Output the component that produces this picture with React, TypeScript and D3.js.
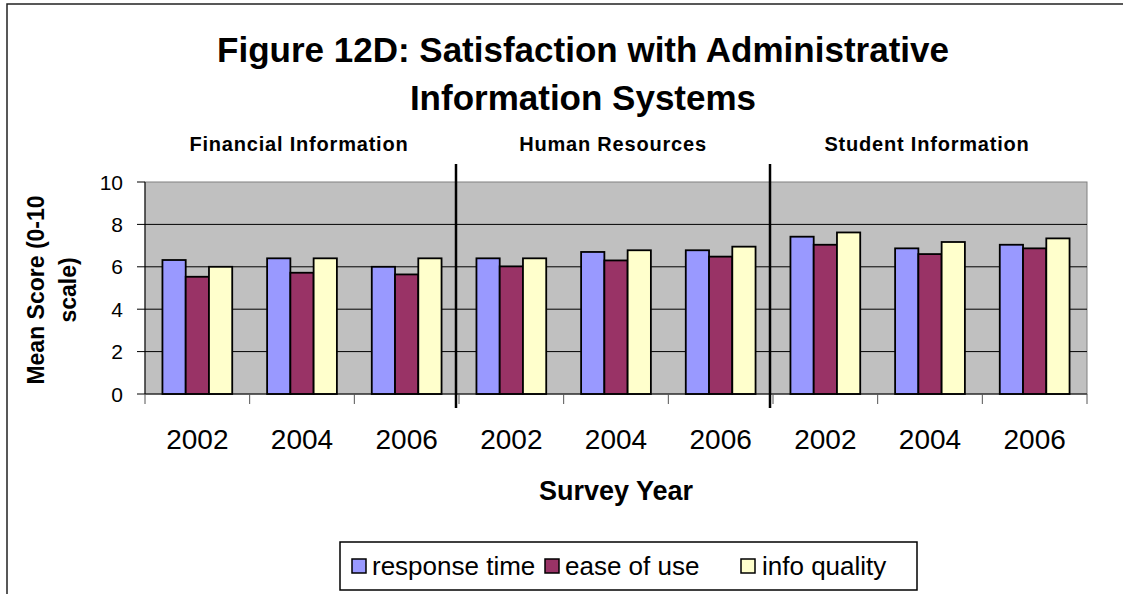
import React from "react";
import { scaleBand, scaleLinear } from "d3";

const width = 1123, height = 594;

const groups = ["Financial Information", "Human Resources", "Student Information"];
const years = ["2002", "2004", "2006"];
const seriesNames = ["response time", "ease of use", "info quality"];
const seriesColors = ["#9999FF", "#993366", "#FFFFCC"];

// one value per group/year, in order Fin 02,04,06, HR 02,04,06, Student 02,04,06
const responseTime = [6.32, 6.4, 6.0, 6.4, 6.7, 6.78, 7.42, 6.87, 7.04];
const easeOfUse = [5.53, 5.72, 5.64, 6.02, 6.3, 6.48, 7.04, 6.6, 6.87];
const infoQuality = [6.0, 6.4, 6.4, 6.4, 6.78, 6.95, 7.62, 7.17, 7.34];
const yTicks = [0, 2, 4, 6, 8, 10];

const font = "Arial, 'Liberation Sans', sans-serif";

const plot = { left: 145, right: 1087, top: 182, bottom: 394 };

const App = () => {
  const series = [responseTime, easeOfUse, infoQuality];
  const cats = groups.flatMap(g => years.map(y => `${g}|${y}`));

  const xScale = scaleBand().domain(cats).range([plot.left, plot.right]);
  const inner = scaleBand()
    .domain(seriesNames)
    .range([0, xScale.bandwidth()])
    .paddingOuter(0.75);
  const yScale = scaleLinear().domain([0, 10]).range([plot.bottom, plot.top]);

  const groupStart = (i: number) => xScale(cats[i * 3])!;
  const groupEnd = (i: number) => xScale(cats[i * 3 + 2])! + xScale.bandwidth();

  const legendItems = [
    { x: 352, tx: 372 },
    { x: 545, tx: 565 },
    { x: 741, tx: 762 },
  ];

  return (
    <svg width={width} height={height}
      style={{ position: "absolute", left: 0, top: 0, display: "block", background: "#fff" }}
      fontFamily={font}>
      {/* chart border */}
      <rect x={7} y={4} width={1130} height={600} fill="#fff" stroke="#222" strokeWidth={1.5} />

      <text x={583} y={62} textAnchor="middle" fontSize={35} fontWeight="bold">
        Figure 12D: Satisfaction with Administrative
      </text>
      <text x={583} y={110} textAnchor="middle" fontSize={35} fontWeight="bold">
        Information Systems
      </text>

      {groups.map((g, i) => (
        <text key={g} x={(groupStart(i) + groupEnd(i)) / 2 - 3} y={151}
          textAnchor="middle" fontSize={20} fontWeight="bold" letterSpacing={0.8}>{g}</text>
      ))}

      {/* plot area */}
      <rect x={plot.left} y={plot.top} width={plot.right - plot.left} height={plot.bottom - plot.top}
        fill="#C0C0C0" stroke="#808080" strokeWidth={1} />
      {yTicks.filter(t => t > 0 && t < 10).map(t => (
        <line key={t} x1={plot.left} x2={plot.right} y1={yScale(t)} y2={yScale(t)} stroke="#000" strokeWidth={1} />
      ))}

      {/* bars */}
      {cats.map((c, ci) => (
        <g key={c} transform={`translate(${xScale(c)},0)`}>
          {series.map((vals, si) => (
            <rect key={si} x={inner(seriesNames[si])} y={yScale(vals[ci])}
              width={inner.bandwidth()} height={plot.bottom - yScale(vals[ci])}
              fill={seriesColors[si]} stroke="#000" strokeWidth={1.8} />
          ))}
        </g>
      ))}

      {/* y axis */}
      <line x1={plot.left} x2={plot.left} y1={plot.top} y2={plot.bottom} stroke="#000" />
      {yTicks.map(t => (
        <g key={t}>
          <line x1={plot.left - 8} x2={plot.left} y1={yScale(t)} y2={yScale(t)} stroke="#000" />
          <text x={123} y={yScale(t)} dy="0.36em" textAnchor="end" fontSize={21}>{t}</text>
        </g>
      ))}

      {/* x axis */}
      <line x1={plot.left} x2={plot.right} y1={plot.bottom} y2={plot.bottom} stroke="#000" />
      {cats.map((c, i) => (
        <line key={"t" + i} x1={xScale(c)} x2={xScale(c)} y1={plot.bottom} y2={plot.bottom + 10} stroke="#555" />
      ))}
      <line x1={plot.right} x2={plot.right} y1={plot.bottom} y2={plot.bottom + 10} stroke="#555" />
      {cats.map((c, i) => (
        <text key={"l" + i} x={xScale(c)! + xScale.bandwidth() / 2} y={449}
          textAnchor="middle" fontSize={28}>{years[i % 3]}</text>
      ))}

      {/* group separators */}
      {[1, 2].map(i => (
        <line key={"s" + i} x1={groupStart(i) - 3} x2={groupStart(i) - 3} y1={164} y2={408}
          stroke="#000" strokeWidth={2.5} />
      ))}

      <text x={616} y={500} textAnchor="middle" fontSize={27} fontWeight="bold">Survey Year</text>

      <g transform="translate(0,290) rotate(-90)" fontSize={23} fontWeight="bold" textAnchor="middle">
        <text x={0} y={44}>Mean Score (0-10</text>
        <text x={0} y={76}>scale)</text>
      </g>

      {/* legend */}
      <rect x={340} y={542} width={577} height={48} fill="#fff" stroke="#000" strokeWidth={1.5} />
      {seriesNames.map((s, i) => (
        <g key={s}>
          <rect x={legendItems[i].x} y={559} width={14} height={14} fill={seriesColors[i]} stroke="#000" strokeWidth={1.5} />
          <text x={legendItems[i].tx} y={575} fontSize={26}>{s}</text>
        </g>
      ))}
    </svg>
  );
};

export default App;
